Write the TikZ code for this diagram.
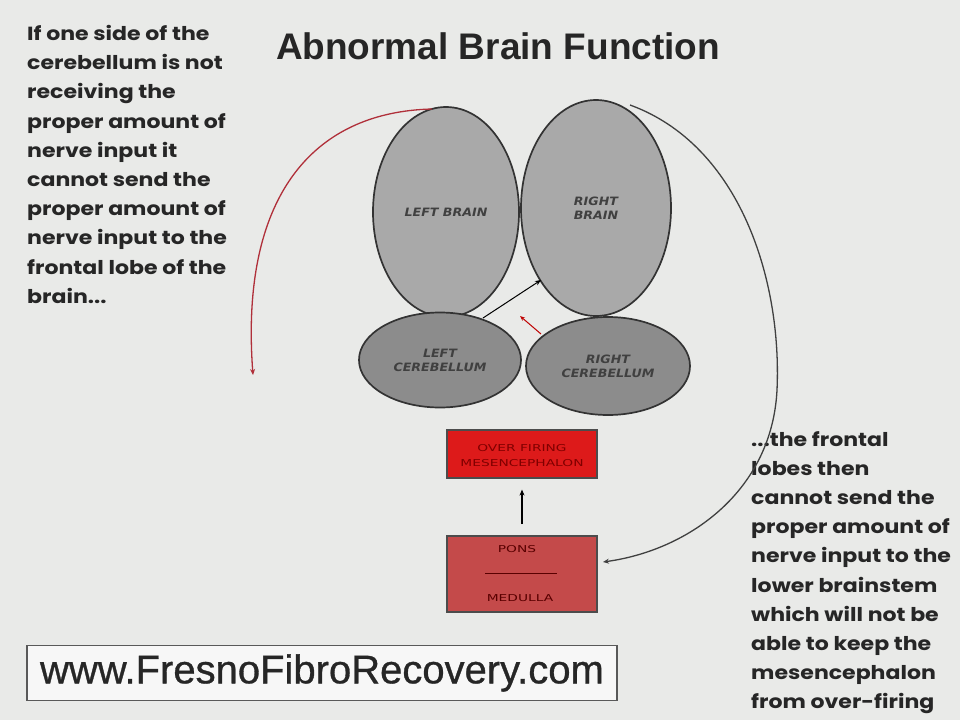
\documentclass[tikz,border=0pt]{standalone}
\usepackage{fontspec}
\setmainfont{Liberation Sans}
\newfontfamily\bodyfont[FakeStretch=1.16]{Poppins}
\newfontfamily\lobefont[FakeStretch=1.1]{DejaVu Sans}
\newfontfamily\stemfont[FakeStretch=1.45]{DejaVu Sans}
\newfontfamily\urlfont[FakeBold=0.8]{Liberation Sans}
\usetikzlibrary{shapes.geometric,arrows.meta}
\definecolor{bg}{HTML}{E9EAE8}
\definecolor{brainfill}{HTML}{A9A9A9}
\definecolor{cerebfill}{HTML}{8C8C8C}
\definecolor{hotred}{HTML}{DD1A1A}
\definecolor{ponsred}{HTML}{C44A4A}
\definecolor{arcred}{HTML}{B0303A}
\tikzset{
  lobe/.style={ellipse, draw=black!80, line width=1.7pt, fill=brainfill, inner sep=0pt,
    font=\lobefont\fontsize{11.5}{14}\selectfont\bfseries\itshape, text=black!75, align=center},
  cereb/.style={lobe, fill=cerebfill},
  stembox/.style={rectangle, draw=black!70, line width=1.2pt, inner sep=0pt,
    minimum width=150pt},
  stemtext/.style={font=\stemfont\fontsize{9.5}{15}\selectfont, align=center},
  bodytext/.style={anchor=north west, inner sep=0pt, align=left,
    font=\bodyfont\bfseries\fontsize{19}{29.2}\selectfont, text=black!85},
  conn/.style={line width=1.1pt, -{Stealth[length=6pt,width=5pt]}},
}
\begin{document}
\begin{tikzpicture}[x=1pt,y=-1pt]
\fill[bg] (0,0) rectangle (960,720);
\useasboundingbox (0,0) rectangle (960,720);

\node[font=\fontsize{37}{40}\selectfont\bfseries, text=black!85] (title) at (498,46) {Abnormal Brain Function};

\node[bodytext] (lefttext) at (27,25) {If one side of the\\cerebellum is not\\receiving the\\proper amount of\\nerve input it\\cannot send the\\proper amount of\\nerve input to the\\frontal lobe of the\\brain...};

\node[bodytext] (righttext) at (751,431) {...the frontal\\lobes then\\cannot send the\\proper amount of\\nerve input to the\\lower brainstem\\which will not be\\able to keep the\\mesencephalon\\from over-firing};

\node[lobe, minimum width=146pt, minimum height=210pt] (lb) at (446,212) {LEFT BRAIN};
\node[lobe, minimum width=150pt, minimum height=216pt] (rb) at (596,208) {RIGHT\\BRAIN};
\node[cereb, minimum width=162pt, minimum height=95pt] (lc) at (440,360) {LEFT\\CEREBELLUM};
\node[cereb, minimum width=164pt, minimum height=98pt] (rc) at (608,366) {RIGHT\\CEREBELLUM};

\node[stembox, fill=hotred, minimum height=48pt] (mes) at (522,454) {};
\node[stemtext, text=red!50!black] (meslabel) at (522,455.5) {OVER FIRING\\MESENCEPHALON};
\node[stembox, fill=ponsred, minimum height=76pt] (pons) at (522,574) {};
\node[stemtext, text=red!35!black] (ponslabel) at (517,549) {PONS};
\node[stemtext, text=red!35!black] (medlabel) at (520,598) {MEDULLA};
\coordinate (divl) at (485,573);
\coordinate (divr) at (557,573);
\draw[red!35!black, line width=0.7pt] (divl) -- (divr);

% arrows
\coordinate (pa) at (522,524);
\draw[conn, line width=1.4pt] (pa) -- ([yshift=-11pt]mes.south);
\coordinate (lcA) at (483,318);
\coordinate (rbA) at (541,280);
\draw[conn, line width=1pt] (lcA) -- (rbA);
\coordinate (rcA) at (541,334);
\coordinate (rcB) at (520,316);
\draw[line width=1pt, red!75!black, -{Stealth[length=5pt,width=4pt]}] (rcA) -- (rcB);

% red arc from left brain top
\coordinate (lbtop) at (432,109);
\coordinate (redend) at (253,375);
\draw[arcred, line width=1.3pt, -{Stealth[length=6pt,width=5pt]}] (lbtop) .. controls (310,112) and (240,200) .. (redend);

% black arc from right brain top to pons
\coordinate (rbtop) at (630,105);
\coordinate (arcmid) at (777,390);
\coordinate (ponsR) at (603,562);
\draw[black!75, line width=1.3pt] (rbtop) .. controls (740,145) and (782,280) .. (arcmid);
\draw[black!75, line width=1.3pt, -{Stealth[length=6pt,width=5pt]}] (arcmid) .. controls (772,490) and (690,550) .. (ponsR);

% url box
\node[draw=black!65, line width=1.6pt, fill=black!3, minimum width=590pt, minimum height=55pt, inner sep=0pt] (urlbox) at (322,673) {};
\node[font=\urlfont\fontsize{40}{44}\selectfont, text=black!85] (url) at (urlbox.center) {www.FresnoFibroRecovery.com};
\end{tikzpicture}
\end{document}
